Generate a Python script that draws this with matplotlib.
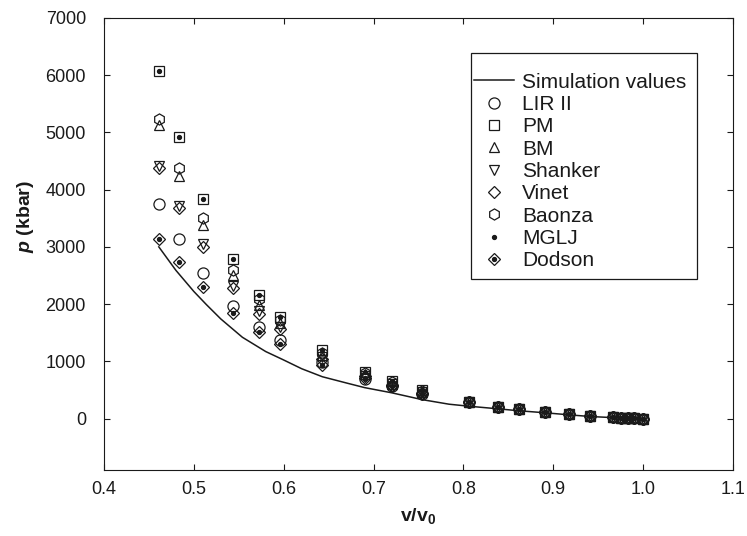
import matplotlib
matplotlib.use("Agg")
import matplotlib.pyplot as plt
from matplotlib.patches import Rectangle
from matplotlib.legend_handler import HandlerTuple

plt.rcParams["font.family"] = ["Liberation Sans", "DejaVu Sans"]
plt.rcParams["mathtext.fontset"] = "custom"
plt.rcParams["mathtext.rm"] = "Liberation Sans"
plt.rcParams["mathtext.bf"] = "Liberation Sans:bold"
plt.rcParams["mathtext.it"] = "Liberation Sans:italic"
plt.rcParams["mathtext.bfit"] = "Liberation Sans:bold:italic"

INK = "#1a1a1a"

# compression ratios v/v0 where the EOS models are evaluated
v_ratio = [0.461, 0.483, 0.510, 0.544, 0.572, 0.596, 0.643, 0.690, 0.720, 0.754,
           0.806, 0.838, 0.862, 0.891, 0.917, 0.941, 0.967, 0.975, 0.983, 0.990, 1.000]

# simulation curve
sim_v = [0.461, 0.48, 0.50, 0.514, 0.53, 0.554, 0.58, 0.599, 0.62, 0.643, 0.67, 0.69,
         0.72, 0.754, 0.784, 0.806, 0.838, 0.862, 0.891, 0.917, 0.941, 0.967, 1.0]
sim_p = [3000, 2590, 2220, 1990, 1740, 1420, 1170, 1030, 870, 730, 620, 540,
         450, 330, 250, 215, 170, 135, 100, 65, 35, 15, 0]

tail = [280, 205, 160, 118, 75, 40, 20, 15, 10, 5, 0]

p_lir = [3750, 3140, 2550, 1960, 1600, 1380, 980, 690, 565, 430] + tail
p_pm = [6070, 4920, 3840, 2790, 2160, 1780, 1190, 820, 650, 490] + tail
p_bm = [5130, 4230, 3390, 2510, 1990, 1670, 1110, 770, 610, 465] + tail
p_shanker = [4420, 3720, 3050, 2320, 1880, 1600, 1070, 750, 600, 455] + tail
p_vinet = [4380, 3680, 3000, 2280, 1820, 1560, 1040, 740, 590, 450] + tail
p_baonza = [5240, 4380, 3510, 2600, 2080, 1720, 1140, 790, 630, 475] + tail
p_mglj = [6070, 4920, 3840, 2790, 2160, 1780, 1190, 820, 650, 490] + tail
p_dodson = [3140, 2740, 2300, 1850, 1520, 1310, 940, 700, 560, 420] + tail

fig = plt.figure(figsize=(7.47, 5.36), dpi=100)
ax = fig.add_axes([104 / 747, 1 - 470 / 536, 629 / 747, 452 / 536])

open_kw = dict(linestyle="none", mfc="none", mec=INK, mew=0.9)

sim_line, = ax.plot(sim_v, sim_p, color=INK, lw=1.1, label="Simulation values")
h_lir, = ax.plot(v_ratio, p_lir, marker="o", ms=8, **open_kw)
h_pm, = ax.plot(v_ratio, p_pm, marker="s", ms=7, **open_kw)
h_bm, = ax.plot(v_ratio, p_bm, marker="^", ms=7.5, **open_kw)
h_sh, = ax.plot(v_ratio, p_shanker, marker="v", ms=7.5, **open_kw)
h_vi, = ax.plot(v_ratio, p_vinet, marker="D", ms=6.5, **open_kw)
h_ba, = ax.plot(v_ratio, p_baonza, marker="h", ms=8, **open_kw)
h_mg, = ax.plot(v_ratio, p_mglj, marker="o", ms=2.8, linestyle="none", color=INK)
h_do, = ax.plot(v_ratio, p_dodson, marker="D", ms=6.5, **open_kw)
h_do2, = ax.plot(v_ratio, p_dodson, marker="o", ms=2.8, linestyle="none", color=INK)

ax.set_xlim(0.4, 1.1)
ax.set_ylim(-900, 7000)
ax.set_xticks([0.4, 0.5, 0.6, 0.7, 0.8, 0.9, 1.0, 1.1])
ax.set_xticklabels(["0.4", "0.5", "0.6", "0.7", "0.8", "0.9", "1.0", "1.1"])
ax.set_yticks(range(0, 7001, 1000))

for s in ax.spines.values():
    s.set_color(INK)
    s.set_linewidth(0.8)
ax.tick_params(direction="in", top=True, right=True, length=4.5, width=0.8,
               color=INK, labelcolor=INK, labelsize=13)
ax.tick_params(axis="y", pad=13)
ax.tick_params(axis="x", pad=8)

ax.set_xlabel(r"$\mathbf{v/v_0}$", fontsize=14, color=INK, labelpad=6)
ax.set_ylabel(r"$\mathbfit{p}$ (kbar)", fontsize=14, fontweight="bold", color=INK)
ax.yaxis.set_label_coords(-0.108, 0.56)

# legend box drawn separately so its padding can be uneven like the original
ax.add_patch(Rectangle((0.583, 0.423), 0.359, 0.499, transform=ax.transAxes,
                       facecolor="white", edgecolor=INK, lw=0.9, zorder=4))

handles = [sim_line, h_lir, h_pm, h_bm, h_sh, h_vi, h_ba, h_mg, (h_do, h_do2)]
labels = ["Simulation values", "LIR II", "PM", "BM", "Shanker", "Vinet",
          "Baonza", "MGLJ", "Dodson"]
leg = ax.legend(handles, labels, loc="upper left", bbox_to_anchor=(0.589, 0.879),
                fontsize=15, frameon=False, borderpad=0, labelspacing=0.16,
                handlelength=1.9, handletextpad=0.4, borderaxespad=0,
                handler_map={tuple: HandlerTuple(ndivide=1)})
leg.set_zorder(5)
for t in leg.get_texts():
    t.set_color(INK)

fig.savefig("out.png", dpi=100)
